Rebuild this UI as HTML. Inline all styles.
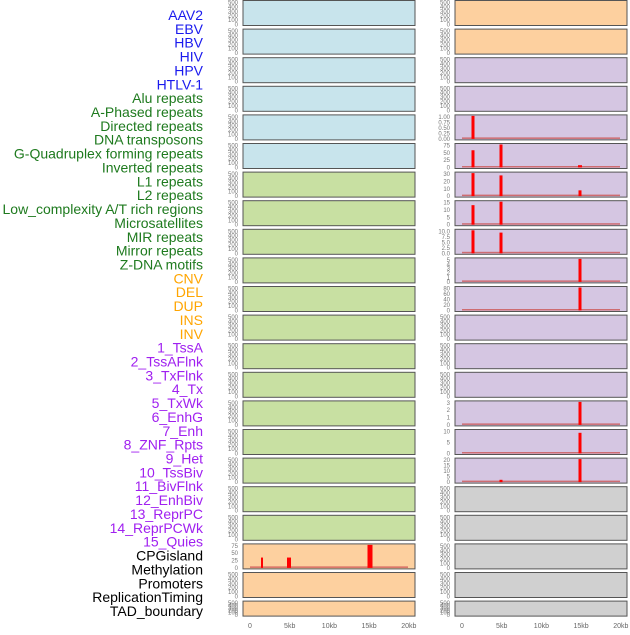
<!DOCTYPE html>
<html><head><meta charset="utf-8"><style>
body{margin:0;background:#fff;width:630px;height:630px;overflow:hidden;font-family:"Liberation Sans",sans-serif}
</style></head><body>
<svg id="s" width="630" height="630" xmlns="http://www.w3.org/2000/svg"></svg>
<script>
const s=document.getElementById('s');let h='';
const labels=[["AAV2","#1a1aee"],["EBV","#1a1aee"],["HBV","#1a1aee"],["HIV","#1a1aee"],["HPV","#1a1aee"],["HTLV-1","#1a1aee"],
["Alu repeats","#1e7a1e"],["A-Phased repeats","#1e7a1e"],["Directed repeats","#1e7a1e"],["DNA transposons","#1e7a1e"],["G-Quadruplex forming repeats","#1e7a1e"],["Inverted repeats","#1e7a1e"],["L1 repeats","#1e7a1e"],["L2 repeats","#1e7a1e"],["Low_complexity A/T rich regions","#1e7a1e"],["Microsatellites","#1e7a1e"],["MIR repeats","#1e7a1e"],["Mirror repeats","#1e7a1e"],["Z-DNA motifs","#1e7a1e"],
["CNV","#ffa500"],["DEL","#ffa500"],["DUP","#ffa500"],["INS","#ffa500"],["INV","#ffa500"],
["1_TssA","#a020f0"],["2_TssAFlnk","#a020f0"],["3_TxFlnk","#a020f0"],["4_Tx","#a020f0"],["5_TxWk","#a020f0"],["6_EnhG","#a020f0"],["7_Enh","#a020f0"],["8_ZNF_Rpts","#a020f0"],["9_Het","#a020f0"],["10_TssBiv","#a020f0"],["11_BivFlnk","#a020f0"],["12_EnhBiv","#a020f0"],["13_ReprPC","#a020f0"],["14_ReprPCWk","#a020f0"],["15_Quies","#a020f0"],
["CPGisland","#000"],["Methylation","#000"],["Promoters","#000"],["ReplicationTiming","#000"],["TAD_boundary","#000"]];
labels.forEach((l,i)=>{h+=`<text x="203" y="${20+i*13.86}" font-size="14" text-anchor="end" fill="${l[1]}">${l[0]}</text>`;});
const pitch=28.6,N=22;
function col(side,i){if(side==0)return i<6?'#c8e4ec':i<19?'#c8e0a2':'#fdd09f';return i<2?'#fdd09f':i<17?'#d5c6e2':'#d0d0d0';}
const bars={ '1_4':[[473,1,3]],'1_5':[[473,.75,3],[501,1,3],[580,.1,4]],'1_6':[[473,1,3],[501,.9,3],[580,.25,3]],'1_7':[[473,.85,3],[501,1,3]],'1_8':[[473,1,3],[501,.9,3]],
'1_9':[[580,1,3]],'1_10':[[580,1,3]],'1_14':[[580,1,3]],'1_15':[[580,.9,3]],'1_16':[[501,.1,3],[580,1,3]],'0_19':[[262,.45,2],[289,.45,4],[370,1,5]]};
const ticks={'1_4':['1.00','0.75','0.50','0.25','0.00'],'1_5':['75','50','25','0'],'1_6':['30','20','10','0'],'1_7':['15','10','5','0'],'1_8':['10.0','7.5','5.0','2.5','0.0'],'0_19':['75','50','25','0'],
'1_9':['5','4','3','2','1','0'],'1_10':['80','60','40','20','0'],'1_14':['3','2','1','0'],'1_15':['10','5','0'],'1_16':['20','15','10','5','0']};
for(let side=0;side<2;side++){const x0=side?455:243,w=172;
for(let i=0;i<N;i++){const y=i*pitch+0.5,ph=i==N-1?15:25;
h+=`<rect x="${x0}" y="${y}" width="${w}" height="${ph}" fill="${col(side,i)}" stroke="#555" stroke-width="1"/>`;
const t=ticks[side+'_'+i]||['500','400','300','200','100','0'];
t.forEach((v,k)=>{const ty=y+2+k*(ph-3)/(t.length-1);h+=`<text x="${x0-5}" y="${ty+2}" font-size="6" fill="#777" text-anchor="end">${v}</text>`;});
const b=bars[side+'_'+i];
if(b){h+=`<rect x="${x0+7}" y="${y+ph-2.5}" width="${w-14}" height="1.5" fill="#c55" opacity=".8"/>`;
b.forEach(z=>{const bh=(ph-2)*z[1];h+=`<rect x="${z[0]-z[2]/2}" y="${y+ph-1-bh}" width="${z[2]}" height="${bh}" fill="#f00"/>`;});}
}
['0','5kb','10kb','15kb','20kb'].forEach((v,k)=>{const x=x0+7+k*39.7;h+=`<text x="${x}" y="628" font-size="7" fill="#666" text-anchor="middle">${v}</text>`;});
}
s.innerHTML=h;
</script>
</body></html>
